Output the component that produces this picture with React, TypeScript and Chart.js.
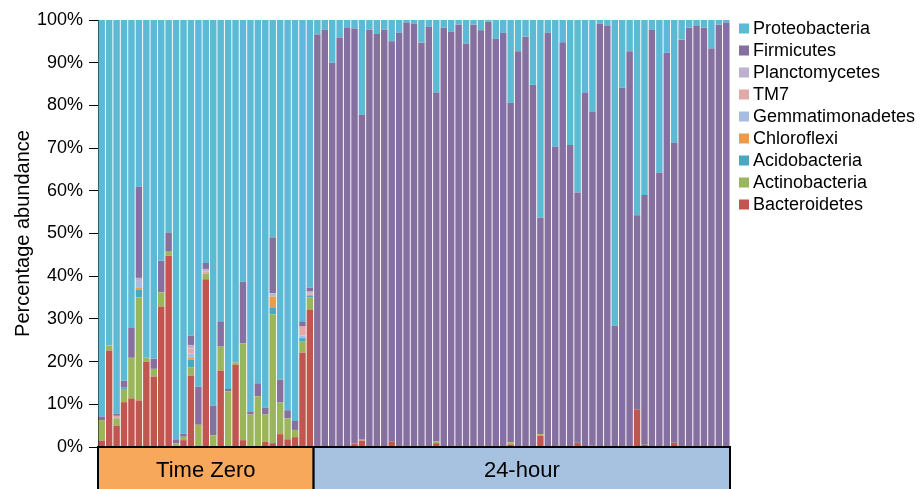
import React, { useEffect, useRef } from "react";
import { Chart, registerables } from "chart.js";

Chart.register(...registerables);

const FONT = "'Liberation Sans', Arial, Helvetica, sans-serif";

const groupNames = ["Time Zero", "24-hour"];
const groupSizes = [29, 56];
const groupColors = ["#F8A85A", "#A7C2E0"];

const sampleLabels = [
  "T0-1", "T0-2", "T0-3", "T0-4", "T0-5", "T0-6", "T0-7", "T0-8", "T0-9", "T0-10",
  "T0-11", "T0-12", "T0-13", "T0-14", "T0-15", "T0-16", "T0-17", "T0-18", "T0-19", "T0-20",
  "T0-21", "T0-22", "T0-23", "T0-24", "T0-25", "T0-26", "T0-27", "T0-28", "T0-29",
  "24h-1", "24h-2", "24h-3", "24h-4", "24h-5", "24h-6", "24h-7", "24h-8", "24h-9", "24h-10",
  "24h-11", "24h-12", "24h-13", "24h-14", "24h-15", "24h-16", "24h-17", "24h-18", "24h-19", "24h-20",
  "24h-21", "24h-22", "24h-23", "24h-24", "24h-25", "24h-26", "24h-27", "24h-28", "24h-29", "24h-30",
  "24h-31", "24h-32", "24h-33", "24h-34", "24h-35", "24h-36", "24h-37", "24h-38", "24h-39", "24h-40",
  "24h-41", "24h-42", "24h-43", "24h-44", "24h-45", "24h-46", "24h-47", "24h-48", "24h-49", "24h-50",
  "24h-51", "24h-52", "24h-53", "24h-54", "24h-55", "24h-56",
];

const yTickValues = [0, 10, 20, 30, 40, 50, 60, 70, 80, 90, 100];

// ---- Time Zero samples (29) ----
const bacteroidetesT0 = [1.5, 22.6, 5.0, 10.5, 11.4, 10.9, 20.0, 16.5, 32.9, 44.8, 0, 1.6, 16.7, 0, 39.3, 0, 17.9, 0, 19.3, 1.6, 0, 0, 1.2, 0.9, 3.0, 1.8, 2.3, 22.1, 32.2];
const actinobacteriaT0 = [4.8, 1.2, 1.7, 3.1, 9.5, 24.1, 0.9, 1.8, 3.3, 1.1, 0.9, 0.8, 2.0, 5.2, 1.2, 2.7, 5.6, 13.0, 0.5, 22.7, 7.6, 11.9, 6.5, 30.2, 7.4, 4.9, 1.7, 2.7, 2.8];
const acidobacteriaT0 = [0, 0, 0, 0.4, 0, 1.8, 0, 0, 0, 0, 0, 0, 1.8, 0, 0, 0, 0, 0, 0, 0, 0, 0, 0, 1.6, 0, 0, 0, 0.7, 0.5];
const chloroflexiT0 = [0, 0, 0, 0, 0, 0.6, 0, 0, 0, 0, 0, 0, 0.5, 0, 0, 0, 0, 0, 0, 0, 0, 0, 0, 2.5, 0, 0, 0, 0, 0];
const gemmatimonadetesT0 = [0, 0, 0, 0, 0, 1.5, 0, 0, 0, 0, 0, 0, 0.9, 0, 0, 0, 0, 0, 0, 0, 0, 0, 0, 0.8, 0, 0, 0, 0.6, 0];
const tm7T0 = [0, 0, 0.6, 0, 0, 0, 0, 0, 0, 0, 0, 0, 1.2, 0, 0.6, 0, 0, 0, 0, 0, 0, 0, 0, 0, 0, 0, 0, 2.1, 0.5];
const planctomycetesT0 = [0, 0, 0, 0, 0, 0.7, 0, 0, 0, 0, 0, 0, 0.8, 0, 0.6, 0, 0, 0, 0, 0, 0, 0, 0, 0, 0, 0, 0, 0, 0.4];
const firmicutesT0 = [0.8, 0, 0.5, 1.5, 7.1, 21.4, 0, 2.4, 7.4, 4.3, 0.9, 0.7, 2.2, 8.9, 1.4, 7.0, 5.8, 0.6, 0, 14.4, 0.6, 3.0, 1.5, 13.1, 5.4, 1.9, 2.1, 1.1, 0.9];
const proteobacteriaT0 = [92.9, 76.2, 92.2, 84.5, 72.0, 39.0, 79.1, 79.3, 56.4, 49.8, 98.2, 96.9, 73.9, 85.9, 56.9, 90.3, 70.7, 86.4, 80.2, 61.3, 91.8, 85.1, 90.8, 50.9, 84.2, 91.4, 93.9, 70.7, 62.7];

// ---- 24-hour samples (56) ----
const bacteroidetes24 = [
  0, 0, 0, 0, 0, 0.8, 1.5, 0, 0, 0,
  1.3, 0, 0, 0, 0, 0, 0.9, 0, 0, 0,
  0, 0, 0, 0, 0, 0, 0.6, 0, 0, 0,
  2.6, 0, 0, 0, 0, 1.0, 0, 0.3, 0, 0,
  0, 0, 0, 8.8, 0.5, 0, 0, 0, 1.0, 0,
  0, 0, 0, 0, 0, 0,
];
const actinobacteria24 = [
  0, 0, 0, 0, 0, 0, 0, 0, 0, 0,
  0, 0, 0, 0, 0, 0, 0.4, 0, 0, 0,
  0, 0, 0, 0, 0, 0, 0.5, 0, 0, 0,
  0.4, 0, 0, 0, 0, 0, 0, 0, 0, 0,
  0, 0, 0, 0, 0, 0, 0, 0, 0, 0,
  0, 0, 0, 0, 0, 0,
];
const acidobacteria24 = [
  0, 0, 0, 0, 0, 0, 0, 0, 0, 0,
  0, 0, 0, 0, 0, 0, 0, 0, 0, 0,
  0, 0, 0, 0, 0, 0, 0, 0, 0, 0,
  0, 0, 0, 0, 0, 0, 0, 0, 0, 0,
  0, 0, 0, 0, 0, 0, 0, 0, 0, 0,
  0, 0, 0, 0, 0, 0,
];
const chloroflexi24 = [
  0, 0, 0, 0, 0, 0, 0, 0, 0, 0,
  0, 0, 0, 0, 0, 0, 0, 0, 0, 0,
  0, 0, 0, 0, 0, 0, 0, 0, 0, 0,
  0, 0, 0, 0, 0, 0, 0, 0, 0, 0,
  0, 0, 0, 0, 0, 0, 0, 0, 0, 0,
  0, 0, 0, 0, 0, 0,
];
const gemmatimonadetes24 = [
  0, 0, 0, 0, 0, 0, 0, 0, 0, 0,
  0, 0, 0, 0, 0, 0, 0, 0, 0, 0,
  0, 0, 0, 0, 0, 0, 0, 0, 0, 0,
  0, 0, 0, 0, 0, 0, 0, 0, 0, 0,
  0, 0, 0, 0, 0, 0, 0, 0, 0, 0,
  0, 0, 0, 0, 0, 0,
];
const tm724 = [
  0, 0, 0, 0, 0, 0, 0.2, 0, 0, 0,
  0, 0, 0, 0, 0, 0, 0, 0, 0, 0,
  0, 0, 0, 0, 0, 0, 0, 0, 0, 0,
  0, 0, 0, 0, 0, 0, 0, 0, 0, 0,
  0, 0, 0, 0, 0, 0, 0, 0, 0, 0,
  0, 0, 0, 0, 0, 0,
];
const planctomycetes24 = [
  0, 0, 0, 0, 0, 0, 0, 0, 0, 0,
  0, 0, 0, 0, 0, 0, 0, 0, 0, 0,
  0, 0, 0, 0, 0, 0, 0, 0, 0, 0,
  0, 0, 0, 0, 0, 0, 0, 0, 0, 0,
  0, 0, 0, 0, 0, 0, 0, 0, 0, 0,
  0, 0, 0, 0, 0, 0,
];
const firmicutes24 = [
  96.6, 97.7, 90.0, 95.9, 98.1, 97.2, 76.1, 97.8, 96.7, 97.8,
  93.7, 97.0, 99.4, 99.1, 94.7, 98.4, 81.7, 98.2, 97.3, 98.9,
  94.5, 98.9, 97.6, 99.6, 95.6, 97.0, 79.5, 92.7, 96.1, 84.8,
  50.7, 97.0, 70.3, 94.8, 70.7, 58.6, 83.0, 78.2, 99.2, 98.7,
  28.4, 84.1, 92.7, 45.5, 58.5, 97.7, 64.2, 92.3, 70.3, 95.4,
  98.2, 98.7, 98.2, 93.3, 98.9, 99.4,
];
const proteobacteria24 = [
  3.4, 2.3, 10.0, 4.1, 1.9, 2.0, 22.2, 2.2, 3.3, 2.2,
  5.0, 3.0, 0.6, 0.9, 5.3, 1.6, 17.0, 1.8, 2.7, 1.1,
  5.5, 1.1, 2.4, 0.4, 4.4, 3.0, 19.4, 7.3, 3.9, 15.2,
  46.3, 3.0, 29.7, 5.2, 29.3, 40.4, 17.0, 21.5, 0.8, 1.3,
  71.6, 15.9, 7.3, 45.7, 41.0, 2.3, 35.8, 7.7, 28.7, 4.6,
  1.8, 1.3, 1.8, 6.7, 1.1, 0.6,
];

// Stack order: bottom -> top
const phylumNames = ["Bacteroidetes", "Actinobacteria", "Acidobacteria", "Chloroflexi", "Gemmatimonadetes", "TM7", "Planctomycetes", "Firmicutes", "Proteobacteria"];
const phylumColors = ["#C0564F", "#9BB55D", "#4AA7C1", "#EE9A4B", "#A5BDE0", "#E1A9A7", "#BDB0D3", "#8670A0", "#5CBAD4"];
const phylumT0 = [bacteroidetesT0, actinobacteriaT0, acidobacteriaT0, chloroflexiT0, gemmatimonadetesT0, tm7T0, planctomycetesT0, firmicutesT0, proteobacteriaT0];
const phylum24 = [bacteroidetes24, actinobacteria24, acidobacteria24, chloroflexi24, gemmatimonadetes24, tm724, planctomycetes24, firmicutes24, proteobacteria24];

const overlayPlugin = {
  id: "groupBoxesAndLegend",
  afterDraw(chart: any) {
    const { ctx, chartArea, scales } = chart;
    const x = scales.x;
    const total = sampleLabels.length;
    const boxBottom = chart.height + 4;
    ctx.save();
    let start = 0;
    groupNames.forEach((name, gi) => {
      const end = start + groupSizes[gi] - 1;
      const left = start === 0 ? chartArea.left : (x.getPixelForValue(start - 1) + x.getPixelForValue(start)) / 2;
      const right = end === total - 1 ? chartArea.right : (x.getPixelForValue(end) + x.getPixelForValue(end + 1)) / 2;
      ctx.fillStyle = groupColors[gi];
      ctx.fillRect(left, chartArea.bottom, right - left, boxBottom - chartArea.bottom);
      ctx.strokeStyle = "#000";
      ctx.lineWidth = 2;
      ctx.strokeRect(left, chartArea.bottom, right - left, boxBottom - chartArea.bottom);
      ctx.fillStyle = "#000";
      ctx.font = `22px ${FONT}`;
      ctx.textAlign = "center";
      ctx.textBaseline = "middle";
      ctx.fillText(name, (left + right) / 2, chartArea.bottom + 24);
      start += groupSizes[gi];
    });

    // Legend (top of stack first)
    const legendX = chartArea.right + 9;
    const legendTop = 28.5;
    const rowH = 22;
    ctx.font = `18px ${FONT}`;
    ctx.textAlign = "left";
    ctx.textBaseline = "middle";
    for (let i = 0; i < phylumNames.length; i++) {
      const idx = phylumNames.length - 1 - i;
      const cy = legendTop + i * rowH;
      ctx.fillStyle = phylumColors[idx];
      ctx.fillRect(legendX, cy - 5, 10, 10);
      ctx.fillStyle = "#000";
      ctx.fillText(phylumNames[idx], legendX + 14, cy + 1);
    }
    ctx.restore();
  },
};

export default function App() {
  const canvasRef = useRef<HTMLCanvasElement | null>(null);

  useEffect(() => {
    if (!canvasRef.current) return;
    const datasets = phylumNames.map((name, i) => ({
      label: name,
      data: [...phylumT0[i], ...phylum24[i]],
      backgroundColor: phylumColors[i],
      borderWidth: 0,
      barPercentage: 0.87,
      categoryPercentage: 1.0,
    }));

    const chart = new Chart(canvasRef.current, {
      type: "bar",
      data: { labels: sampleLabels, datasets },
      options: {
        responsive: false,
        animation: false,
        layout: { padding: { top: 20, left: 0, right: 191, bottom: 42 } },
        plugins: {
          legend: { display: false },
          tooltip: { enabled: false },
        },
        scales: {
          x: {
            stacked: true,
            display: false,
          },
          y: {
            stacked: true,
            min: 0,
            max: 100,
            afterFit: (scale: any) => {
              scale.width = 98;
            },
            afterBuildTicks: (scale: any) => {
              scale.ticks = yTickValues.map((v) => ({ value: v }));
            },
            ticks: {
              callback: (v: any) => `${v}%`,
              font: { family: FONT, size: 18 },
              color: "#000",
              padding: 6,
            },
            grid: {
              display: true,
              drawOnChartArea: false,
              drawTicks: true,
              tickLength: 9,
              tickColor: "#000",
              tickWidth: 1,
            },
            border: { display: true, color: "#000", width: 1 },
            title: {
              display: true,
              text: "Percentage abundance",
              font: { family: FONT, size: 20 },
              color: "#000",
              padding: { top: 11, bottom: 0 },
            },
          },
        },
      },
      plugins: [overlayPlugin],
    });
    return () => chart.destroy();
  }, []);

  return (
    <div style={{ position: "fixed", left: 0, top: 0, width: 921, height: 489, background: "#fff" }}>
      <canvas ref={canvasRef} width={921} height={489} style={{ display: "block", width: 921, height: 489 }} />
    </div>
  );
}
